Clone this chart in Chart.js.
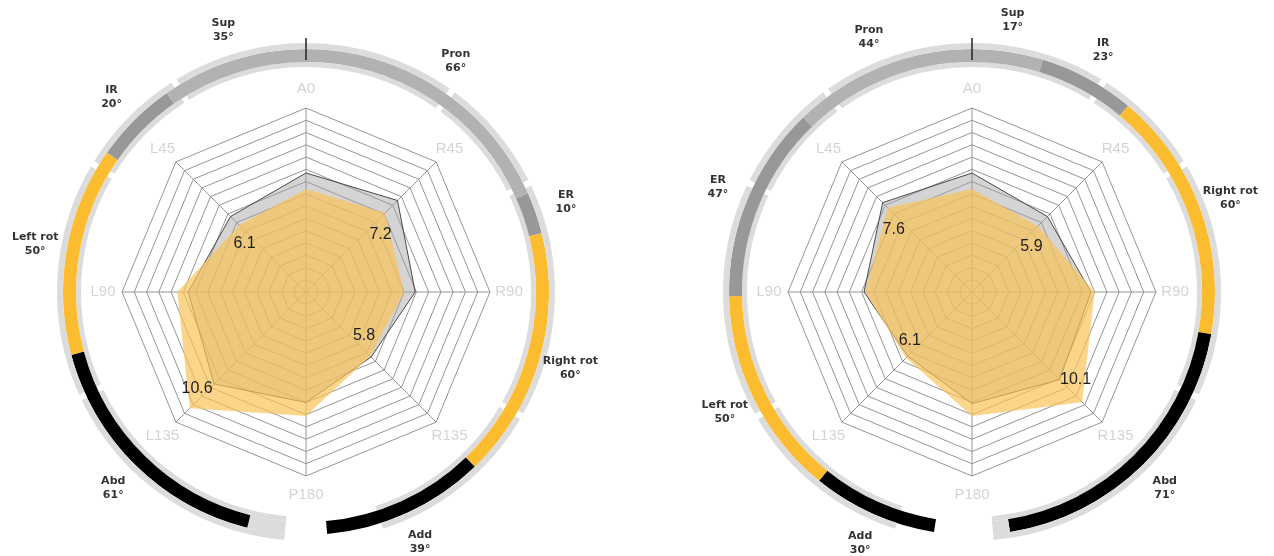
<!DOCTYPE html>
<html>
<head>
<meta charset="utf-8">
<script src="https://cdn.jsdelivr.net/npm/chart.js@4.4.1/dist/chart.umd.min.js"></script>
<style>
  html, body { margin: 0; padding: 0; background: #fff; overflow: hidden; width: 1274px; height: 556px; }
  .panel { position: absolute; top: 0; width: 600px; height: 556px; }
  .panel canvas { position: absolute; left: 0; top: 0; }
</style>
</head>
<body>
<div class="panel" style="left:6px">
  <canvas id="ring1" width="600" height="556"></canvas>
  <canvas id="radar1" width="600" height="556"></canvas>
</div>
<div class="panel" style="left:672px">
  <canvas id="ring2" width="600" height="556"></canvas>
  <canvas id="radar2" width="600" height="556"></canvas>
</div>
<script>
// Radar axes (clockwise from top)
const axes = ['A0', 'R45', 'R90', 'R135', 'P180', 'L135', 'L90', 'L45'];

// Panel 1 radar values
const grey1   = [9.7, 10.55, 8.9, 7.5, 9.0, 10.6, 9.6, 8.7];
const yellow1 = [8.4, 9.1, 8.0, 7.4, 10.1, 13.4, 10.5, 7.7];
const noteText1 = ['6.1', '7.2', '5.8', '10.6'];
const noteAxis1 = [7, 1, 3, 5];

// Panel 2 radar values
const grey2   = [9.7, 8.7, 9.7, 10.1, 9.1, 7.4, 8.8, 10.3];
const yellow2 = [8.4, 7.6, 10.0, 12.7, 10.1, 7.6, 8.7, 9.7];
const noteText2 = ['7.6', '5.9', '6.1', '10.1'];
const noteAxis2 = [7, 1, 5, 3];

// Motion arcs: right side runs clockwise from the top, left side counter-clockwise
const rightNames1 = ['Pron', 'ER', 'Right rot', 'Add'];
const rightDeg1   = [66, 10, 60, 39];
const leftNames1  = ['Sup', 'IR', 'Left rot', 'Abd'];
const leftDeg1    = [35, 20, 50, 61];

const rightNames2 = ['Sup', 'IR', 'Right rot', 'Abd'];
const rightDeg2   = [17, 23, 60, 71];
const leftNames2  = ['Pron', 'ER', 'Left rot', 'Add'];
const leftDeg2    = [44, 47, 50, 30];

// Normal range of each motion (light grey band)
const normalNames = ['Sup', 'Pron', 'IR', 'ER', 'Right rot', 'Left rot', 'Abd', 'Add'];
const normalDeg   = [32, 36, 27, 28, 56, 56, 60, 42];

// ---- styling ----
const LIGHT = '#dcdcdc';
const CLEAR = 'rgba(0,0,0,0)';
const motionColor = {
  'Sup': '#b2b2b2', 'Pron': '#b2b2b2',
  'IR': '#989898', 'ER': '#989898',
  'Right rot': '#fbbd2f', 'Left rot': '#fbbd2f',
  'Abd': '#000000', 'Add': '#000000'
};
const noteOffset1 = [[14, 27], [-17, 34], [-7, -21], [-17, 5]];
const noteOffset2 = [[11, 27], [-16, 30], [2, -16], [16, 0]];
const NOTCH = 1.4;

const normalOf = n => normalDeg[normalNames.indexOf(n)];
const sum = a => a.reduce((s, v) => s + v, 0);

function ringDatasets(rNames, rDeg, lNames, lDeg) {
  const refR = rNames.map(normalOf), refL = lNames.map(normalOf);
  const sR = sum(rDeg), sL = sum(lDeg), nR = sum(refR), nL = sum(refL);

  // measured motions
  const band = { data: [], backgroundColor: [], names: [], values: [] };
  const add = (v, c, n, d) => { band.data.push(v); band.backgroundColor.push(c); band.names.push(n); band.values.push(d); };
  rNames.forEach((n, i) => add(rDeg[i], motionColor[n], n, rDeg[i]));
  if (nR > sR) add(nR - sR, LIGHT, null, null);
  add(360 - Math.max(sR, nR) - Math.max(sL, nL), CLEAR, null, null);
  if (nL > sL) add(nL - sL, LIGHT, null, null);
  for (let i = lNames.length - 1; i >= 0; i--) add(lDeg[i], motionColor[lNames[i]], lNames[i], lDeg[i]);

  // normal ranges, split by small notches
  const strip = { data: [], backgroundColor: [] };
  const put = (v, c) => { strip.data.push(v); strip.backgroundColor.push(c); };
  const side = refs => {
    refs.forEach((v, i) => {
      const last = i === refs.length - 1;
      put(v - (i > 0 ? NOTCH / 2 : 0) - (last ? 0 : NOTCH / 2), LIGHT);
      if (!last) put(NOTCH, '#ffffff');
    });
  };
  side(refR);
  put(360 - nR - nL, CLEAR);
  side(refL.slice().reverse());

  const common = { borderWidth: 0, hoverOffset: 0, spacing: 0 };
  return [
    Object.assign({ data: strip.data, backgroundColor: strip.backgroundColor, weight: 6 }, common),
    Object.assign({ data: band.data, backgroundColor: band.backgroundColor, weight: 13, names: band.names, values: band.values }, common),
    Object.assign({ data: strip.data, backgroundColor: strip.backgroundColor, weight: 5 }, common)
  ];
}

// Motion names and degrees outside the ring, plus the zero mark at the top
const ringLabels = {
  id: 'ringLabels',
  afterDraw(chart) {
    const ctx = chart.ctx;
    const outer = chart.getDatasetMeta(0).controller;
    const bandMeta = chart.getDatasetMeta(1);
    const ds = chart.data.datasets[1];
    const cx = (chart.chartArea.left + chart.chartArea.right) / 2;
    const cy = (chart.chartArea.top + chart.chartArea.bottom) / 2;
    const R = outer.outerRadius + 26;
    ctx.save();
    ctx.fillStyle = '#333333';
    ctx.font = 'bold 11px "DejaVu Sans"';
    ctx.textAlign = 'center';
    ctx.textBaseline = 'middle';
    bandMeta.data.forEach((arc, i) => {
      if (!ds.names[i]) return;
      const { startAngle, endAngle } = arc.getProps(['startAngle', 'endAngle'], true);
      const a = (startAngle + endAngle) / 2;
      const x = cx + Math.cos(a) * R, y = cy + Math.sin(a) * R;
      ctx.fillText(ds.names[i], x, y - 7);
      ctx.fillText(ds.values[i] + '°', x, y + 7);
    });
    const band = bandMeta.controller;
    ctx.strokeStyle = '#222';
    ctx.lineWidth = 1.5;
    ctx.beginPath();
    ctx.moveTo(cx, cy - band.innerRadius - 2);
    ctx.lineTo(cx, cy - outer.outerRadius - 5);
    ctx.stroke();
    ctx.restore();
  }
};

// Axis names and value notes on the radar
const radarText = {
  id: 'radarText',
  afterDatasetsDraw(chart, args, opts) {
    const ctx = chart.ctx;
    const r = chart.scales.r;
    ctx.save();
    ctx.textAlign = 'center';
    ctx.textBaseline = 'middle';
    ctx.font = '15px "Liberation Sans"';
    ctx.fillStyle = '#d4d4d4';
    chart.data.labels.forEach((lab, i) => {
      const p = r.getPointPosition(i, r.drawingArea + 19);
      ctx.fillText(lab, p.x, p.y);
    });
    ctx.font = '16px "Liberation Sans"';
    ctx.fillStyle = '#1e1e1e';
    const grey = chart.data.datasets[1].data;
    opts.text.forEach((t, k) => {
      const idx = opts.axis[k];
      const p = r.getPointPositionForValue(idx, grey[idx]);
      const off = opts.offset[k];
      ctx.fillText(t, p.x + off[0], p.y + off[1]);
    });
    ctx.restore();
  }
};

function buildPanel(ringId, radarId, rNames, rDeg, lNames, lDeg, grey, yellow, noteText, noteAxis, noteOffset) {
  new Chart(document.getElementById(ringId), {
    type: 'doughnut',
    data: { labels: [], datasets: ringDatasets(rNames, rDeg, lNames, lDeg) },
    options: {
      responsive: false,
      animation: false,
      radius: 249,
      cutout: (225 / 249 * 100) + '%',
      layout: { padding: { top: 28, bottom: 0, left: 0, right: 0 } },
      plugins: { legend: { display: false }, tooltip: { enabled: false } },
      events: []
    },
    plugins: [ringLabels]
  });

  new Chart(document.getElementById(radarId), {
    type: 'radar',
    data: {
      labels: axes,
      datasets: [
        { data: yellow, backgroundColor: 'rgba(249,196,88,0.7)', borderWidth: 0, pointRadius: 0, fill: 'origin' },
        { data: grey, backgroundColor: 'rgba(160,160,160,0.45)', borderColor: '#484848', borderWidth: 1, pointRadius: 0, fill: 'origin' }
      ]
    },
    options: {
      responsive: false,
      animation: false,
      events: [],
      layout: { padding: { left: 116, right: 116, top: 108, bottom: 80 } },
      plugins: {
        legend: { display: false },
        tooltip: { enabled: false },
        radarText: { text: noteText, axis: noteAxis, offset: noteOffset }
      },
      scales: {
        r: {
          min: 0, max: 15,
          ticks: { display: false, stepSize: 1 },
          pointLabels: { display: false },
          grid: { color: '#959595', lineWidth: 1 },
          angleLines: { color: '#959595', lineWidth: 1 }
        }
      }
    },
    plugins: [radarText]
  });
}

buildPanel('ring1', 'radar1', rightNames1, rightDeg1, leftNames1, leftDeg1, grey1, yellow1, noteText1, noteAxis1, noteOffset1);
buildPanel('ring2', 'radar2', rightNames2, rightDeg2, leftNames2, leftDeg2, grey2, yellow2, noteText2, noteAxis2, noteOffset2);
</script>
</body>
</html>
